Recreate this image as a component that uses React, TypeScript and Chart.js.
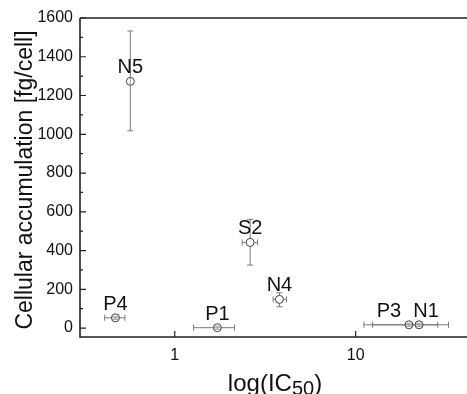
import React, { useEffect, useRef } from "react";
import { Chart, registerables } from "chart.js";

Chart.register(...registerables);

const names = ["P4", "P1", "S2", "N4", "P3", "N1", "N5"];
const ic50 = [0.47, 1.72, 2.61, 3.79, 19.7, 22.4, 0.568];
const ic50Low = [0.41, 1.27, 2.36, 3.5, 11.1, 12.4, 0.568];
const ic50High = [0.53, 2.14, 2.87, 4.15, 28.4, 32.6, 0.568];
const accumulation = [53, 2, 442, 148, 17, 17, 1273];
const accLow = [45, -6, 325, 110, 9, 9, 1018];
const accHigh = [61, 10, 561, 182, 25, 25, 1533];
const hollowPoints = ["S2", "N4"];
const labelShift: Record<string, number> = { P3: -20, N1: 7 };
const xTicks = [1, 10];
const yTicks = [0, 200, 400, 600, 800, 1000, 1200, 1400, 1600];

const FONT = "'Liberation Sans', Arial, sans-serif";

const decorPlugin = {
  id: "decor",
  beforeDatasetsDraw(chart: any) {
    const { ctx, scales } = chart;
    const xs = scales.x;
    const ys = scales.y;
    ctx.save();
    ctx.strokeStyle = "#7a7a7a";
    ctx.lineWidth = 1;
    const cap = 3;
    for (let i = 0; i < names.length; i++) {
      const px = xs.getPixelForValue(ic50[i]);
      const py = ys.getPixelForValue(accumulation[i]);
      const xl = xs.getPixelForValue(ic50Low[i]);
      const xh = xs.getPixelForValue(ic50High[i]);
      const yl = ys.getPixelForValue(accLow[i]);
      const yh = ys.getPixelForValue(accHigh[i]);
      ctx.beginPath();
      if (xh - xl > 1) {
        ctx.moveTo(xl, py);
        ctx.lineTo(xh, py);
        ctx.moveTo(xl, py - cap);
        ctx.lineTo(xl, py + cap);
        ctx.moveTo(xh, py - cap);
        ctx.lineTo(xh, py + cap);
      }
      ctx.moveTo(px, yl);
      ctx.lineTo(px, yh);
      ctx.moveTo(px - cap, yl);
      ctx.lineTo(px + cap, yl);
      ctx.moveTo(px - cap, yh);
      ctx.lineTo(px + cap, yh);
      ctx.stroke();
    }
    ctx.restore();
  },
  afterDatasetsDraw(chart: any) {
    const { ctx, chartArea, scales } = chart;
    const xs = scales.x;
    const ys = scales.y;
    ctx.save();
    // point labels
    ctx.fillStyle = "#111";
    ctx.font = `20px ${FONT}`;
    ctx.textAlign = "center";
    ctx.textBaseline = "alphabetic";
    for (let i = 0; i < names.length; i++) {
      const px = xs.getPixelForValue(ic50[i]) + (labelShift[names[i]] || 0);
      const py = ys.getPixelForValue(accumulation[i]);
      ctx.fillText(names[i], px, py - 8);
    }
    // frame
    ctx.strokeStyle = "#222";
    ctx.lineWidth = 1.6;
    ctx.beginPath();
    ctx.moveTo(chartArea.left, chartArea.top);
    ctx.lineTo(chartArea.right + 5, chartArea.top);
    ctx.moveTo(chartArea.left, chartArea.top);
    ctx.lineTo(chartArea.left, chartArea.bottom);
    ctx.lineTo(chartArea.right + 5, chartArea.bottom);
    ctx.stroke();
    // ticks
    ctx.lineWidth = 1.2;
    ctx.beginPath();
    for (let v = 0; v <= 1600; v += 100) {
      const y = ys.getPixelForValue(v);
      const len = v % 200 === 0 ? 6 : 3;
      ctx.moveTo(chartArea.left, y);
      ctx.lineTo(chartArea.left + len, y);
    }
    for (const t of xTicks) {
      const x = xs.getPixelForValue(t);
      ctx.moveTo(x, chartArea.bottom);
      ctx.lineTo(x, chartArea.bottom - 6);
    }
    ctx.stroke();
    // y title
    ctx.fillStyle = "#111";
    ctx.font = `23px ${FONT}`;
    ctx.save();
    ctx.translate(32, 180);
    ctx.rotate(-Math.PI / 2);
    ctx.textAlign = "center";
    ctx.textBaseline = "alphabetic";
    ctx.fillText("Cellular accumulation [fg/cell]", 0, 0);
    ctx.restore();
    // x title with subscript
    const main1 = "log(IC";
    const sub = "50";
    const main2 = ")";
    ctx.font = `24px ${FONT}`;
    const w1 = ctx.measureText(main1).width;
    const w3 = ctx.measureText(main2).width;
    ctx.font = `20px ${FONT}`;
    const w2 = ctx.measureText(sub).width;
    const total = w1 + w2 + w3;
    const cx = 275;
    const x0 = cx - total / 2;
    const base = 391;
    ctx.textAlign = "left";
    ctx.font = `24px ${FONT}`;
    ctx.fillText(main1, x0, base);
    ctx.font = `20px ${FONT}`;
    ctx.fillText(sub, x0 + w1, base + 4);
    ctx.font = `24px ${FONT}`;
    ctx.fillText(main2, x0 + w1 + w2, base);
    ctx.restore();
  },
};

export default function App() {
  const canvasRef = useRef<HTMLCanvasElement | null>(null);

  useEffect(() => {
    document.body.style.margin = "0";
    const canvas = canvasRef.current;
    if (!canvas) return;
    const points = ic50.map((x, i) => ({ x, y: accumulation[i] }));
    const chart = new Chart(canvas, {
      type: "scatter",
      data: {
        datasets: [
          {
            data: points,
            pointRadius: 4,
            pointHoverRadius: 4,
            pointBorderWidth: 1,
            pointBorderColor: "#444",
            pointBackgroundColor: names.map((n) =>
              hollowPoints.includes(n) ? "#fff" : "rgba(255,255,255,0.3)"
            ),
          },
        ],
      },
      options: {
        animation: false,
        responsive: true,
        maintainAspectRatio: false,
        layout: { padding: { top: 18, right: 0, left: 0, bottom: 0 } },
        plugins: {
          legend: { display: false },
          tooltip: { enabled: false },
        },
        scales: {
          x: {
            type: "logarithmic",
            min: 0.2994,
            max: 38.7,
            grid: { display: false, drawTicks: false },
            border: { display: false },
            afterBuildTicks: (scale: any) => {
              scale.ticks = xTicks.map((v) => ({ value: v }));
            },
            afterFit: (scale: any) => {
              scale.height = 57;
            },
            ticks: {
              autoSkip: false,
              maxRotation: 0,
              padding: 9,
              color: "#111",
              font: { family: FONT, size: 16 },
              callback: (v: any) => String(v),
            },
          },
          y: {
            min: -46,
            max: 1600,
            grid: { display: false, drawTicks: false },
            border: { display: false },
            afterBuildTicks: (scale: any) => {
              scale.ticks = yTicks.map((v) => ({ value: v }));
            },
            afterFit: (scale: any) => {
              scale.width = 80;
            },
            ticks: {
              padding: 7,
              color: "#111",
              font: { family: FONT, size: 16 },
              callback: (v: any) => String(v),
            },
          },
        },
      },
      plugins: [decorPlugin],
    });
    return () => chart.destroy();
  }, []);

  return (
    <div style={{ width: 467, height: 394, position: "relative" }}>
      <canvas ref={canvasRef} />
    </div>
  );
}
